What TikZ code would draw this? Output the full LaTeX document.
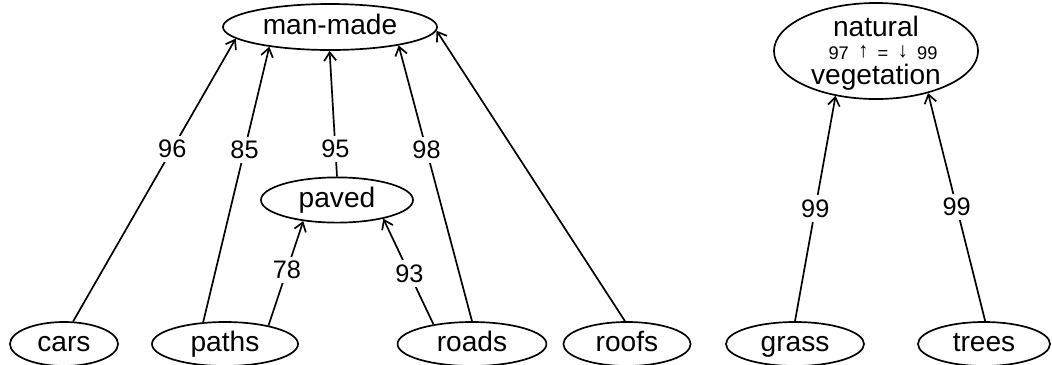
\documentclass[tikz,border=0pt]{standalone}
\usepackage{fontspec}
\setmainfont{Liberation Sans}
\usetikzlibrary{shapes.geometric,arrows.meta}

\newcommand{\tally}[1]{\raisebox{1.5pt}{\fontsize{15}{15}\selectfont#1}}
% one centred line, its baseline #1 below the one before
\newcommand{\row}[2]{\vrule height #1 width 0pt\smash{#2}\cr}

\begin{document}
\begin{tikzpicture}[
		class/.style={ellipse,draw,line width=1.2pt,inner sep=0pt,font=\fontsize{20}{20}\selectfont,
			text height=14pt,text depth=4pt},
		link/.style={line width=1.2pt,-{Straight Barb[length=6pt,width=8.5pt,line width=1.2pt]}},
		score/.style={fill=white,inner sep=3pt,font=\fontsize{18}{18}\selectfont},
	]
	\begin{scope}[x=0.025cm,y=-0.025cm]
		\useasboundingbox (0,0) rectangle (1052,364);

		% upper classes
		\node[class,minimum width=5.35cm,minimum height=1.15cm] (manmade) at (330,27) {man-made};
		\node[class,minimum width=5.1cm,minimum height=2.4cm,text height=48.3pt,text depth=0pt] (natural) at (876,51)
			{\vbox{\offinterlineskip\halign{\hfil#\hfil\cr
				\row{13.5pt}{natural}
				\row{17pt}{\fontsize{13}{13}\selectfont\hspace{10pt}97\enspace\tally{\textuparrow}\enspace=\enspace\tally{\textdownarrow}\enspace99}
				\row{17.8pt}{vegetation}}}};

		% middle class
		\node[class,minimum width=3.8cm,minimum height=1.13cm] (paved) at (337,200) {paved};

		% leaves, cut by the lower edge
		\node[class,minimum width=2.7cm,minimum height=1.1cm] (cars) at (64,344) {cars};
		\node[class,minimum width=3.65cm,minimum height=1.1cm] (paths) at (225,344) {paths};
		\node[class,minimum width=3.72cm,minimum height=1.1cm] (roads) at (472,344) {roads};
		\node[class,minimum width=3.18cm,minimum height=1.1cm] (roofs) at (627,344) {roofs};
		\node[class,minimum width=3.45cm,minimum height=1.1cm] (grass) at (795,344) {grass};
		\node[class,minimum width=3.3cm,minimum height=1.1cm] (trees) at (984,344) {trees};

		% edges to man-made
		\draw[link] (cars.68) -- node[score,pos=0.61]{96} (manmade.187);
		\draw[link] (paths.135) -- node[score,pos=0.625]{85} (manmade.198);
		\draw[link] (paved.90) -- node[score,pos=0.22]{95} (manmade.269);
		\draw[link] (roads.90) -- node[score,pos=0.62]{98} (manmade.345);
		\draw[link] (roofs.95) -- (manmade.358);

		% edges to paved
		\draw[link] (paths.23) -- node[score,pos=0.53]{78} (paved.212);
		\draw[link] (roads.153) -- node[score,pos=0.48]{93} (paved.338);

		% edges to natural
		\draw[link] (grass.90) -- node[score,pos=0.5]{99} (natural.228);
		\draw[link] (trees.87) -- node[score,pos=0.5]{99} (natural.321);
	\end{scope}
\end{tikzpicture}
\end{document}
